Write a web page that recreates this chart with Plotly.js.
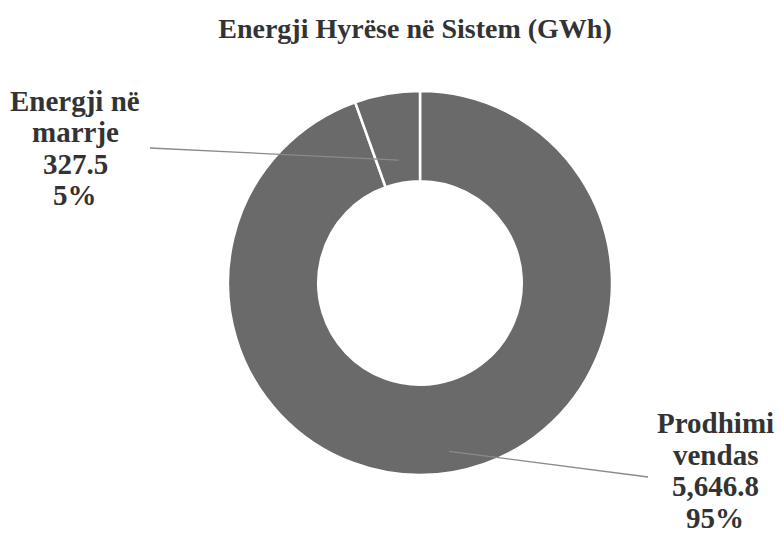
<!DOCTYPE html>
<html>
<head>
<meta charset="utf-8">
<script src="https://cdn.plot.ly/plotly-3.0.1.min.js"></script>
<style>html,body{margin:0;padding:0;background:#fff;}</style>
</head>
<body>
<div id="chart" style="width:779px;height:537px;"></div>
<script>
const labels = ["Prodhimi vendas", "Energji në marrje"];
const labelLines = [["Prodhimi", "vendas"], ["Energji në", "marrje"]];
const values = [5646.8, 327.5];
const sliceColors = ["#6a6a6a", "#6a6a6a"];

const W = 779, H = 537;
const M = {l: 228, r: 167, t: 91, b: 62};
const PW = W - M.l - M.r, PH = H - M.t - M.b;
const px2x = p => (p - M.l) / PW;
const py2y = p => (H - M.b - p) / PH;
const FONT = "Liberation Serif";

const total = values.reduce((a, b) => a + b, 0);
const cx = M.l + PW / 2, cy = M.t + PH / 2, R = Math.min(PW, PH) / 2;

// label layout: text centre x, first line centre y, line pitch, leader-line outer end, inner radius fraction
const labelPos = [
  {x: 715, y: 423, pitch: 31.5, lx: 648, ly: 477, r: 0.89},
  {x: 75, y: 101, pitch: 31.3, lx: 150, ly: 148, r: 0.65}
];

const shapes = [], annotations = [];
let cum = 0;
values.forEach((v, i) => {
  const frac = v / total;
  const mid = (cum + frac / 2) * 2 * Math.PI; // clockwise from top
  cum += frac;
  const p = labelPos[i];
  const rr = R * p.r;
  const ix = cx + rr * Math.sin(mid), iy = cy - rr * Math.cos(mid);
  shapes.push({type: 'line', xref: 'paper', yref: 'paper',
    x0: px2x(ix), y0: py2y(iy), x1: px2x(p.lx), y1: py2y(p.ly),
    line: {color: '#8a8a8a', width: 1.3}});
  const valTxt = v.toLocaleString('en-US', {minimumFractionDigits: 1, maximumFractionDigits: 1});
  const pct = Math.round(frac * 100) + '%';
  labelLines[i].concat([valTxt, pct]).forEach((t, k) => {
    annotations.push({xref: 'paper', yref: 'paper', x: px2x(p.x), y: py2y(p.y + k * p.pitch),
      xanchor: 'center', yanchor: 'middle', showarrow: false, align: 'center',
      text: '<b>' + t + '</b>',
      font: {family: FONT, size: 29, color: '#333333'}});
  });
});

const data = [{
  type: 'pie', labels: labels, values: values, hole: 0.53, sort: false,
  direction: 'clockwise', rotation: 0, textinfo: 'none', hoverinfo: 'label+value+percent',
  marker: {colors: sliceColors, line: {color: '#ffffff', width: 2.5}},
  showlegend: false
}];

const layout = {
  width: W, height: H, margin: M, paper_bgcolor: '#ffffff', plot_bgcolor: '#ffffff',
  font: {family: FONT},
  title: {text: '<b>Energji Hyrëse në Sistem (GWh)</b>', x: 415 / W, xanchor: 'center',
    y: 1 - 28 / H, yanchor: 'middle', yref: 'container',
    font: {family: FONT, size: 28, color: '#333333'}},
  shapes: shapes, annotations: annotations
};
Plotly.newPlot('chart', data, layout, {displayModeBar: false, staticPlot: true});
</script>
</body>
</html>
